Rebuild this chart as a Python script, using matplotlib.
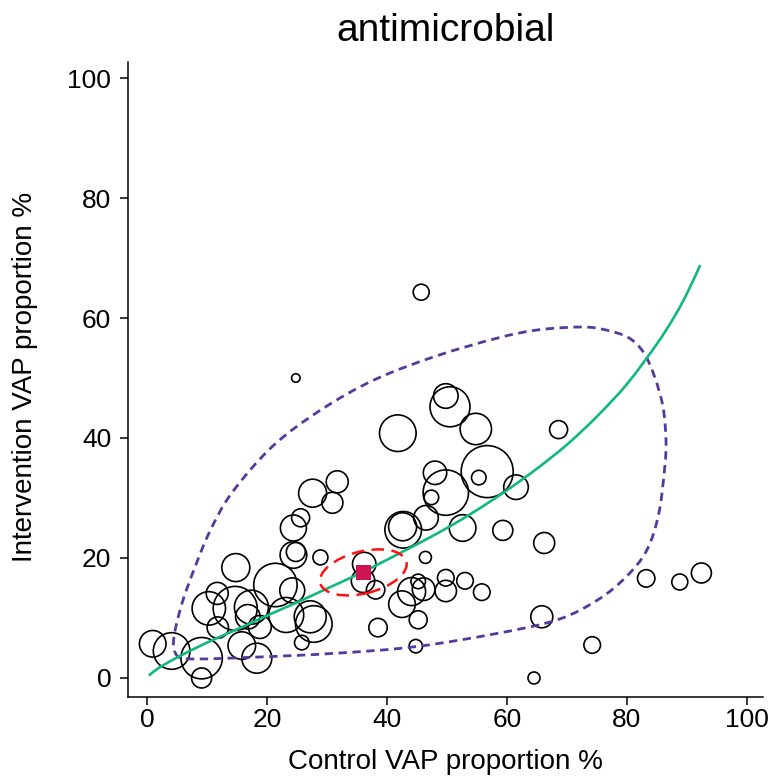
import matplotlib
matplotlib.use("Agg")
import matplotlib.pyplot as plt
from matplotlib.patches import Ellipse, PathPatch
from matplotlib.path import Path
import numpy as np

plt.rcParams['font.family'] = ['Liberation Sans', 'DejaVu Sans']

# study level data: control %, intervention %, weight (bubble area)
ctrl = [0.95, 4.1, 9.1, 9.1, 10.3, 11.7, 11.8, 14.8, 14.7, 17.4, 16.8, 18.8, 15.8, 18.3,
        21.4, 24.2, 23.2, 27.2, 27.8, 25.8, 24.4, 24.8, 24.4, 25.6, 27.6, 31.7, 30.9, 24.8,
        28.9, 36.2, 36.0, 38.1, 38.5, 42.5, 44.1, 45.2, 46.1, 45.2, 44.8, 46.4, 49.8, 49.8,
        53.0, 55.8, 42.6, 42.7, 46.5, 47.4, 48.0, 49.8, 52.6, 56.7, 55.3, 61.5, 59.3, 66.2,
        65.8, 64.5, 74.2, 83.2, 88.8, 92.4, 68.6, 54.8, 50.5, 49.8, 41.8, 45.7]
interv = [5.7, 4.5, 3.3, 0.0, 11.6, 14.1, 8.4, 18.4, 11.6, 11.8, 10.2, 8.5, 5.4, 3.3,
          15.5, 14.6, 10.5, 10.2, 9.0, 5.9, 20.5, 21.0, 25.0, 26.7, 30.8, 32.7, 29.2, 50.0,
          20.1, 19.0, 16.2, 14.7, 8.4, 12.3, 14.4, 16.1, 14.8, 9.7, 5.3, 20.1, 16.7, 14.5,
          16.2, 14.3, 25.2, 24.7, 26.7, 30.1, 34.2, 30.9, 25.0, 34.4, 33.4, 31.8, 24.6, 22.5,
          10.2, 0.0, 5.5, 16.6, 16.0, 17.5, 41.4, 41.5, 45.2, 47.0, 40.8, 64.3]
weight = [177, 335, 428, 100, 279, 121, 114, 196, 484, 289, 150, 132, 190, 225,
          471, 156, 306, 256, 335, 53, 177, 90, 169, 81, 196, 121, 110, 18,
          56, 137, 137, 85, 85, 177, 196, 53, 128, 81, 45, 36, 69, 114,
          69, 69, 196, 335, 151, 53, 137, 515, 177, 676, 53, 151, 100, 110,
          121, 36, 69, 76, 64, 100, 81, 246, 400, 151, 335, 64]

# fitted curve
fit_x = [0.3, 2, 5, 10, 15, 20, 25, 30, 35, 40, 45, 50, 55, 60, 65, 70, 75, 80, 85, 88, 90, 92.2]
fit_y = [0.4, 1.7, 3.4, 5.9, 8.1, 10.4, 12.6, 14.9, 17.2, 19.7, 22.3, 25.0, 28.0, 31.3, 34.9,
         38.9, 43.6, 49.0, 55.7, 60.4, 64.1, 68.8]

# prediction region contour
reg_x = [4.6, 6.7, 17.5, 31.1, 44.6, 58.2, 68.4, 75.1, 79.9, 83.3, 85.3, 86.3, 86.5, 86.0,
         84.6, 82.8, 80.3, 76.5, 72.4, 65.0, 58.2, 48.0, 37.9, 29.0, 20.9, 14.1, 10.5, 8.0,
         6.0, 4.8, 4.4, 4.6]
reg_y = [4.3, 3.2, 3.45, 4.1, 5.2, 7.4, 9.7, 13.0, 16.9, 21.3, 27.4, 35.2, 39.7, 45.2,
         50.2, 54.2, 56.7, 58.0, 58.5, 58.0, 56.6, 53.6, 49.7, 44.7, 38.6, 30.8, 24.5, 18.5,
         13.0, 8.5, 5.8, 4.3]

# summary point and its confidence ellipse
summ_x, summ_y = 36.05, 17.6
ell_w, ell_h, ell_angle = 14.8, 7.0, 14


def smooth_path(xs, ys):
    # bezier path through the read points (catmull-rom tangents)
    p = np.column_stack([xs, ys]).astype(float)
    verts = [p[0]]
    codes = [Path.MOVETO]
    n = len(p)
    for i in range(n - 1):
        p0 = p[i - 1] if i > 0 else p[i]
        p3 = p[i + 2] if i + 2 < n else p[i + 1]
        c1 = p[i] + (p[i + 1] - p0) / 6
        c2 = p[i + 1] - (p3 - p[i]) / 6
        verts += [c1, c2, p[i + 1]]
        codes += [Path.CURVE4] * 3
    return Path(verts, codes)


fig = plt.figure(figsize=(7.71, 7.76), dpi=100)
ax = fig.add_axes([128 / 771, 1 - 697 / 776, 635 / 771, 635 / 776])

px_pt = 0.72
sizes = [w * (2 * px_pt) ** 2 for w in weight]
ax.scatter(ctrl, interv, s=sizes, facecolors='none', edgecolors='black', linewidths=1.2, zorder=2)

ax.add_patch(PathPatch(smooth_path(reg_x, reg_y), fill=False, edgecolor='#56389E', lw=2.0,
                       ls=(0, (3.0, 2.0)), zorder=3))
ax.add_patch(PathPatch(smooth_path(fit_x, fit_y), fill=False, edgecolor='#11B780', lw=1.9,
                       zorder=4))

ax.add_patch(Ellipse((summ_x, summ_y), ell_w, ell_h, angle=ell_angle, fill=False,
                     edgecolor='#FF1010', lw=1.8, ls=(0, (5.0, 3.0)), zorder=5))
ax.scatter([summ_x], [summ_y], marker='s', s=(15 * px_pt) ** 2, color='#CC1452',
           linewidths=0, zorder=6)

ax.set_xlim(-3.17, 102.67)
ax.set_ylim(-3.17, 102.67)
ticks = [0, 20, 40, 60, 80, 100]
ax.set_xticks(ticks)
ax.set_yticks(ticks)
for s in ['top', 'right']:
    ax.spines[s].set_visible(False)
for s in ['left', 'bottom']:
    ax.spines[s].set_linewidth(1.1)
ax.tick_params(direction='out', length=6, width=1.1, labelsize=19)
ax.tick_params(axis='x', pad=2)
ax.tick_params(axis='y', pad=6)

fig.text(445.5 / 771, 1 - 31 / 776, 'antimicrobial', ha='center', va='center', fontsize=28)
fig.text(445.5 / 771, 1 - 762 / 776, 'Control VAP proportion %', ha='center', va='center', fontsize=20)
fig.text(25 / 771, 1 - 377 / 776, 'Intervention VAP proportion %', ha='center', va='center',
         rotation=90, fontsize=20)

fig.savefig('out.png', dpi=100)
